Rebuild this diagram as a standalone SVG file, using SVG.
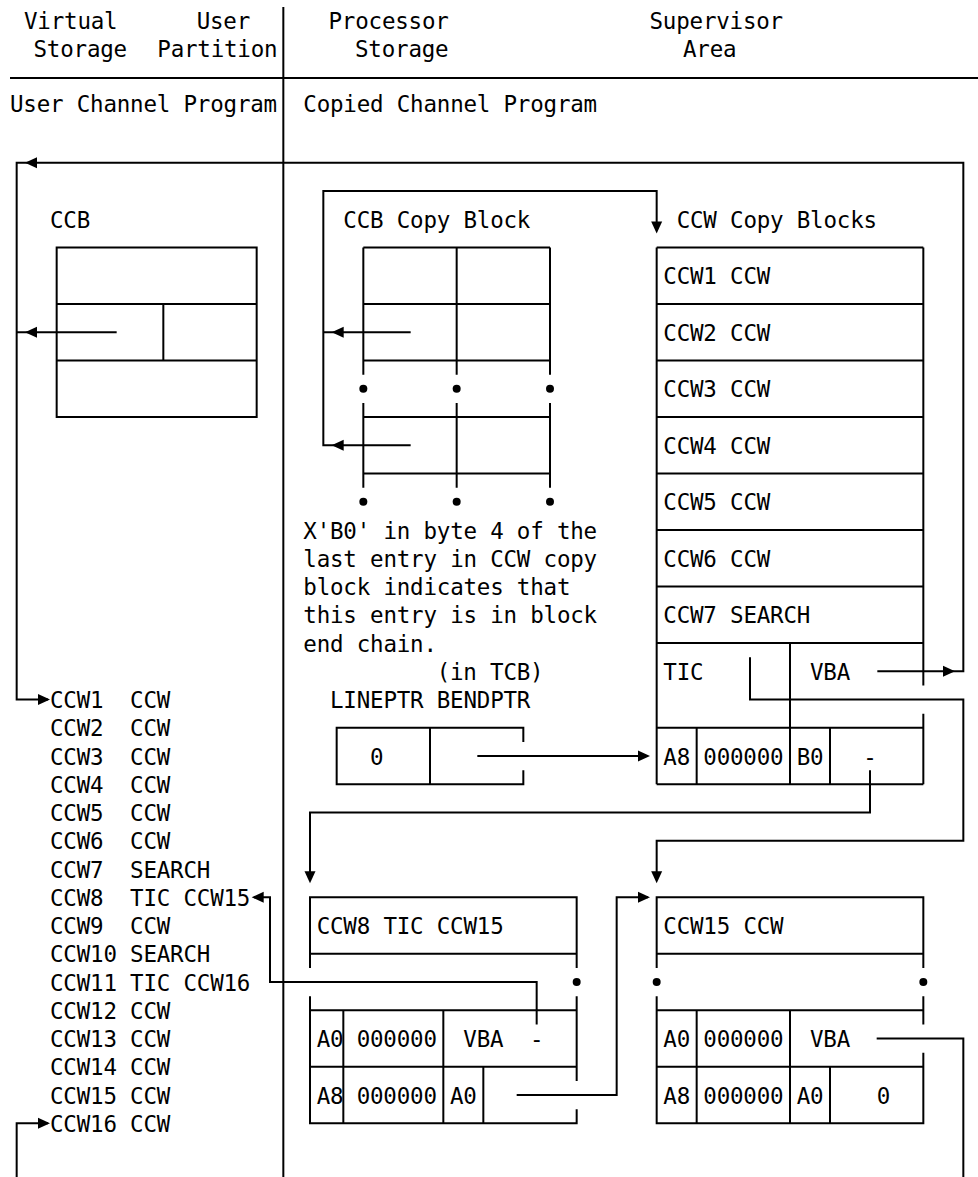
<svg xmlns="http://www.w3.org/2000/svg" width="978" height="1177" viewBox="0 0 978 1177">
<style>
.ln{stroke:#000;stroke-width:2;fill:none}
text{font-family:"DejaVu Sans Mono","Liberation Mono",monospace;font-size:22.5px;letter-spacing:-0.2px;fill:#000;white-space:pre}
.dot{fill:#000}
</style>
<defs>
<polygon id="ar" points="0,0 -12,-5.5 -12,5.5" fill="#000"/>
</defs>
<rect width="978" height="1177" fill="#fff"/>

<g id="header">
<path class="ln" d="M283.33,7 V1177 M10,78 H978"/>
<text x="24" y="29.3">Virtual</text>
<text x="196.67" y="29.3">User</text>
<text x="33.5" y="56.7">Storage</text>
<text x="157.3" y="56.7">Partition</text>
<text x="328.5" y="29.3">Processor</text>
<text x="355" y="56.7">Storage</text>
<text x="649.5" y="29.3">Supervisor</text>
<text x="683" y="56.7">Area</text>
<text x="10" y="111.7">User Channel Program</text>
<text x="303.33" y="111.7">Copied Channel Program</text>
</g>

<g id="ccb">
<text x="50" y="227.75">CCB</text>
<rect class="ln" x="56.67" y="247.5" width="200" height="169.5"/>
<path class="ln" d="M56.67,304 H256.67 M56.67,360.5 H256.67 M163.33,304 V360.5"/>
</g>

<g id="ccb-copy">
<text x="343.33" y="227.75">CCB Copy Block</text>
<path class="ln" d="M363.33,247.5 H550 M363.33,304 H550 M363.33,360.5 H550 M363.33,247.5 V374.63 M456.67,247.5 V374.63 M550,247.5 V374.63"/>
<circle class="dot" cx="363.33" cy="388.75" r="4"/>
<circle class="dot" cx="456.67" cy="388.75" r="4"/>
<circle class="dot" cx="550" cy="388.75" r="4"/>
<path class="ln" d="M363.33,402.88 V487.63 M456.67,402.88 V487.63 M550,402.88 V487.63 M363.33,417 H550 M363.33,473.5 H550"/>
<circle class="dot" cx="363.33" cy="501.75" r="4"/>
<circle class="dot" cx="456.67" cy="501.75" r="4"/>
<circle class="dot" cx="550" cy="501.75" r="4"/>
</g>

<g id="note">
<text x="303.33" y="538.5">X'B0' in byte 4 of the</text>
<text x="303.33" y="566.75">last entry in CCW copy</text>
<text x="303.33" y="595">block indicates that</text>
<text x="303.33" y="623.25">this entry is in block</text>
<text x="303.33" y="651.5">end chain.</text>
</g>

<g id="ccw-copy">
<text x="676.67" y="227.75">CCW Copy Blocks</text>
<path class="ln" d="M656.67,247.5 V784.25 M923.33,247.5 V685.38 M923.33,713.63 V784.25"/>
<path class="ln" d="M656.67,247.5 H923.33 M656.67,304 H923.33 M656.67,360.5 H923.33 M656.67,417 H923.33 M656.67,473.5 H923.33 M656.67,530 H923.33 M656.67,586.5 H923.33 M656.67,643 H923.33 M656.67,727.75 H923.33 M656.67,784.25 H923.33"/>
<path class="ln" d="M790,643 V784.25 M696.67,727.75 V784.25 M830,727.75 V784.25"/>
<text x="663.33" y="284.25">CCW1 CCW</text>
<text x="663.33" y="340.75">CCW2 CCW</text>
<text x="663.33" y="397.25">CCW3 CCW</text>
<text x="663.33" y="453.75">CCW4 CCW</text>
<text x="663.33" y="510.25">CCW5 CCW</text>
<text x="663.33" y="566.75">CCW6 CCW</text>
<text x="663.33" y="623.25">CCW7 SEARCH</text>
<text x="663.33" y="679.75">TIC</text>
<text x="810" y="679.75">VBA</text>
<text x="663.33" y="764.5">A8</text>
<text x="703.33" y="764.5">000000</text>
<text x="796.67" y="764.5">B0</text>
<text x="863.33" y="764.5">-</text>
</g>

<g id="lineptr">
<text x="436.67" y="679.75">(in TCB)</text>
<text x="330" y="708">LINEPTR BENDPTR</text>
<path class="ln" d="M523.33,741.88 V727.75 H336.67 V784.25 H523.33 V770.13 M430,727.75 V784.25"/>
<text x="370" y="764.5">0</text>
</g>

<g id="user-ccws">
<text x="50" y="708" xml:space="preserve">CCW1  CCW</text>
<text x="50" y="736.25" xml:space="preserve">CCW2  CCW</text>
<text x="50" y="764.5" xml:space="preserve">CCW3  CCW</text>
<text x="50" y="792.75" xml:space="preserve">CCW4  CCW</text>
<text x="50" y="821" xml:space="preserve">CCW5  CCW</text>
<text x="50" y="849.25" xml:space="preserve">CCW6  CCW</text>
<text x="50" y="877.5" xml:space="preserve">CCW7  SEARCH</text>
<text x="50" y="905.75" xml:space="preserve">CCW8  TIC CCW15</text>
<text x="50" y="934" xml:space="preserve">CCW9  CCW</text>
<text x="50" y="962.25">CCW10 SEARCH</text>
<text x="50" y="990.5">CCW11 TIC CCW16</text>
<text x="50" y="1018.75">CCW12 CCW</text>
<text x="50" y="1047">CCW13 CCW</text>
<text x="50" y="1075.25">CCW14 CCW</text>
<text x="50" y="1103.5">CCW15 CCW</text>
<text x="50" y="1131.75">CCW16 CCW</text>
</g>

<g id="ccw8-block">
<path class="ln" d="M310,967.88 V897.25 H576.67 V967.88 M310,953.75 H576.67"/>
<circle class="dot" cx="576.67" cy="982" r="4"/>
<path class="ln" d="M310,996.13 V1123.25 H576.67 V1109.13 M576.67,996.13 V1080.88 M310,1010.25 H576.67 M310,1066.75 H576.67 M343.33,1010.25 V1123.25 M443.33,1010.25 V1123.25 M483.33,1066.75 V1123.25"/>
<text x="316.67" y="934">CCW8 TIC CCW15</text>
<text x="316.67" y="1047">A0</text>
<text x="356.67" y="1047">000000</text>
<text x="463.33" y="1047">VBA</text>
<text x="530" y="1047">-</text>
<text x="316.67" y="1103.5">A8</text>
<text x="356.67" y="1103.5">000000</text>
<text x="450" y="1103.5">A0</text>
</g>

<g id="ccw15-block">
<path class="ln" d="M656.67,967.88 V897.25 H923.33 V967.88 M656.67,953.75 H923.33"/>
<circle class="dot" cx="656.67" cy="982" r="4"/>
<circle class="dot" cx="923.33" cy="982" r="4"/>
<path class="ln" d="M656.67,996.13 V1123.25 H923.33 V1052.63 M923.33,996.13 V1024.38 M656.67,1010.25 H923.33 M656.67,1066.75 H923.33 M696.67,1010.25 V1123.25 M790,1010.25 V1123.25 M830,1066.75 V1123.25"/>
<text x="663.33" y="934">CCW15 CCW</text>
<text x="663.33" y="1047">A0</text>
<text x="703.33" y="1047">000000</text>
<text x="810" y="1047">VBA</text>
<text x="663.33" y="1103.5">A8</text>
<text x="703.33" y="1103.5">000000</text>
<text x="796.67" y="1103.5">A0</text>
<text x="876.67" y="1103.5">0</text>
</g>

<g id="connectors">
<path class="ln" d="M877.33,671.25 H963.33 V162.75 H16.67 V699.5 H48"/>
<use href="#ar" transform="translate(955,671.25)"/>
<use href="#ar" transform="translate(25,162.75) rotate(180)"/>
<use href="#ar" transform="translate(50,699.5)"/>
<path class="ln" d="M116.67,332.25 H16.67"/>
<use href="#ar" transform="translate(25,332.25) rotate(180)"/>
<path class="ln" d="M410.67,332.25 H323.33 M410.67,445.25 H323.33 V191 H656.67 V230"/>
<use href="#ar" transform="translate(331.67,332.25) rotate(180)"/>
<use href="#ar" transform="translate(331.67,445.25) rotate(180)"/>
<use href="#ar" transform="translate(656.67,233.5) rotate(90)"/>
<path class="ln" d="M477.33,756 H648"/>
<use href="#ar" transform="translate(650,756)"/>
<path class="ln" d="M870,770.13 V812.5 H310 V880"/>
<use href="#ar" transform="translate(310,883.25) rotate(90)"/>
<path class="ln" d="M750,657.13 V699.5 H963.33 V840.75 H656.67 V880"/>
<use href="#ar" transform="translate(656.67,883.25) rotate(90)"/>
<path class="ln" d="M536.67,1024.38 V982 H270 V897.25 H254"/>
<use href="#ar" transform="translate(251.67,897.25) rotate(180)"/>
<path class="ln" d="M516.67,1095 H616.67 V897.25 H648"/>
<use href="#ar" transform="translate(650,897.25)"/>
<path class="ln" d="M876.67,1038.5 H963.33 V1177 M16.67,1177 V1123.25 H48"/>
<use href="#ar" transform="translate(50,1123.25)"/>
</g>
</svg>
